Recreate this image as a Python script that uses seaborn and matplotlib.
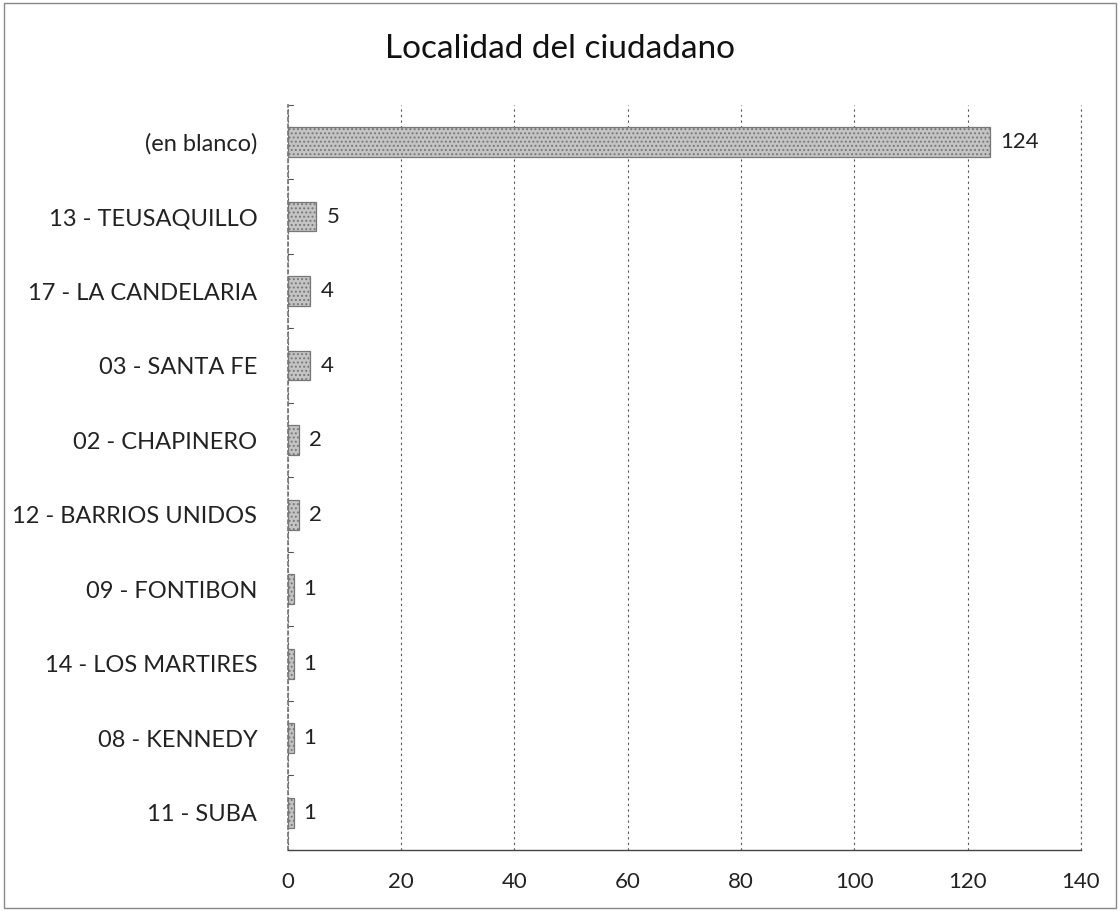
import matplotlib
matplotlib.use("Agg")
import matplotlib.pyplot as plt
import seaborn as sns
import pandas as pd

localidades = [
    "(en blanco)",
    "13 - TEUSAQUILLO",
    "17 - LA CANDELARIA",
    "03 - SANTA FE",
    "02 - CHAPINERO",
    "12 - BARRIOS UNIDOS",
    "09 - FONTIBON",
    "14 - LOS MARTIRES",
    "08 - KENNEDY",
    "11 - SUBA",
]
cantidades = [124, 5, 4, 4, 2, 2, 1, 1, 1, 1]
ticks_x = [0, 20, 40, 60, 80, 100, 120, 140]
titulo = "Localidad del ciudadano"

df = pd.DataFrame({"localidad": localidades, "cantidad": cantidades})

sns.set_theme(style="white")
plt.rcParams["font.family"] = ["Lato", "DejaVu Sans"]
plt.rcParams["hatch.color"] = "#5a5a5a"
plt.rcParams["hatch.linewidth"] = 0.9

fig = plt.figure(figsize=(11.2, 9.11), dpi=100)
ax = fig.add_axes([0.257, 0.067, 0.708, 0.818])

sns.barplot(data=df, y="localidad", x="cantidad", orient="h",
            color="#c4c4c4", width=0.4, ax=ax, order=localidades)

for p in ax.patches:
    p.set_hatch("....")
    p.set_edgecolor("#777777")
    p.set_linewidth(0.9)

for i, v in enumerate(cantidades):
    ax.text(v + 1.8, i, str(v), va="center", ha="left",
            fontsize=16, color="#222222")

ax.set_xlim(0, 140)
ax.set_ylim(len(localidades) - 0.5, -0.5)
ax.set_xticks(ticks_x)
ax.set_xticklabels([str(t) for t in ticks_x], fontsize=16, color="#222222")
ax.tick_params(axis="y", labelsize=17, labelcolor="#222222", length=0, pad=22)
ax.tick_params(axis="x", length=0, pad=16)
ax.set_xlabel("")
ax.set_ylabel("")

ax.grid(axis="x", linestyle=(0, (2, 3)), color="#555555", linewidth=0.8)
ax.axvline(140, linestyle=(0, (2, 3)), color="#555555", linewidth=0.8,
           clip_on=False)
ax.set_axisbelow(True)
for s in ["top", "right"]:
    ax.spines[s].set_visible(False)
ax.spines["left"].set_color("#777777")
ax.spines["left"].set_linestyle((0, (2, 2)))
ax.spines["bottom"].set_color("#444444")
ax.spines["bottom"].set_linewidth(1.0)

# category separators on the vertical axis
for k in range(len(localidades) + 1):
    ax.plot([0.0, 0.9], [k - 0.5, k - 0.5], color="#555555",
            linewidth=0.8, clip_on=False)

fig.text(0.5, 0.946, titulo, ha="center", va="center", fontsize=24,
         color="#111111")

# chart frame
frame = plt.Rectangle((0.004, 0.003), 0.992, 0.994, transform=fig.transFigure,
                      fill=False, edgecolor="#888888", linewidth=1.0)
fig.patches.append(frame)

fig.savefig("out.png", dpi=100, facecolor="white")
